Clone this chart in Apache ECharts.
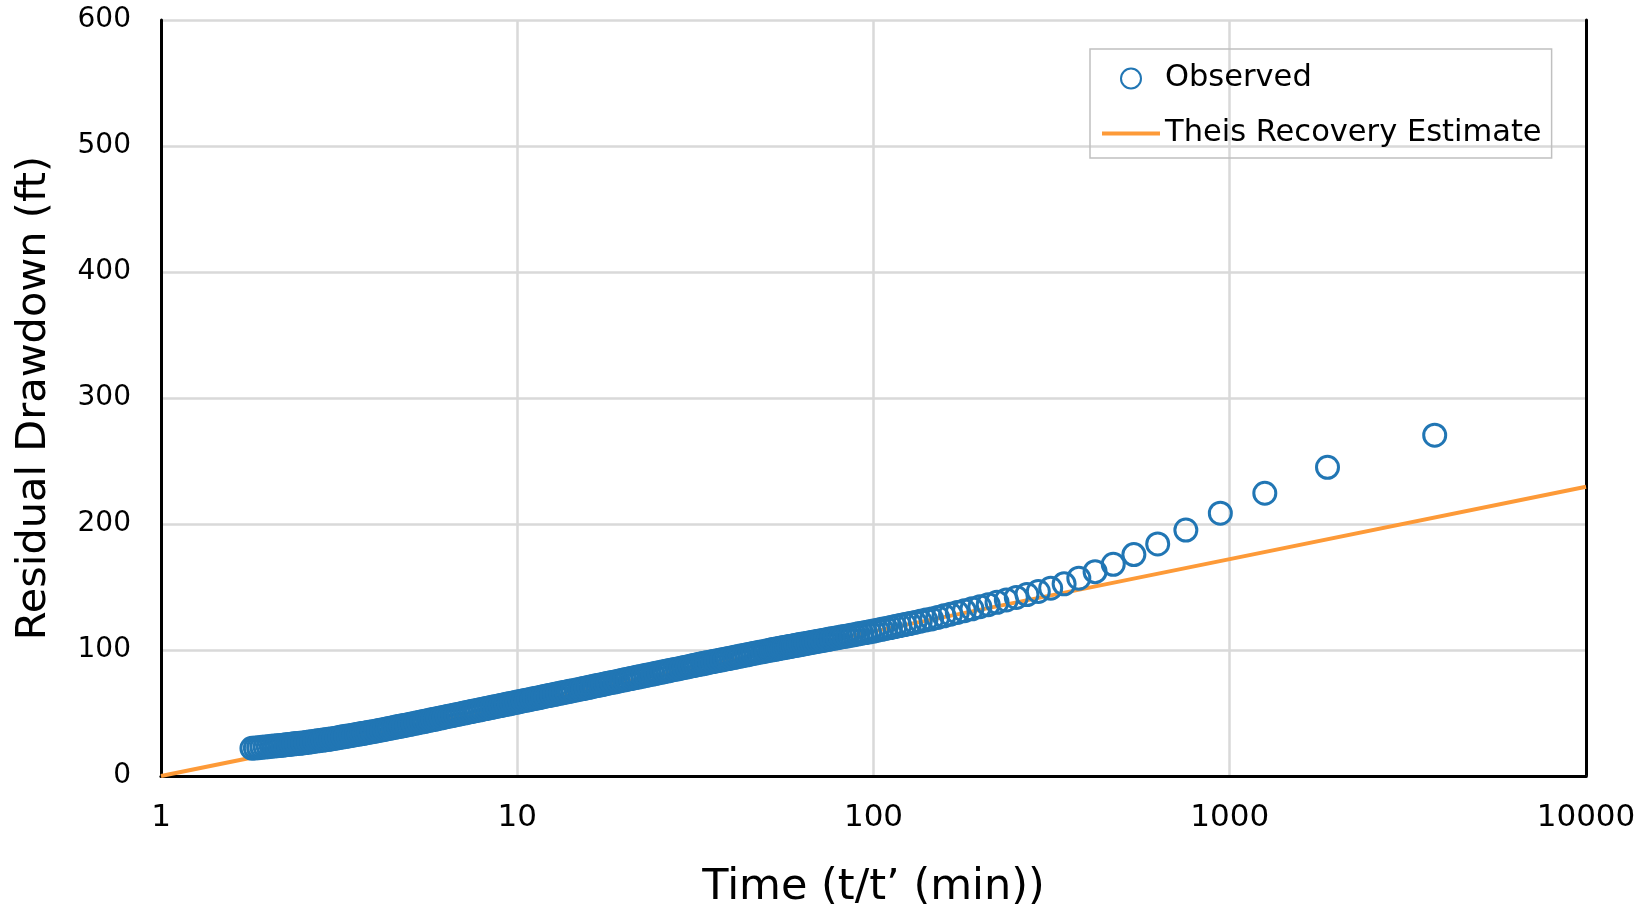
<!DOCTYPE html>
<html>
<head>
<meta charset="utf-8">
<title>Residual Drawdown</title>
<script src="https://cdn.jsdelivr.net/npm/echarts@6/dist/echarts.min.js"></script>
<style>
  html, body { margin: 0; padding: 0; background: #fff; }
  #chart { width: 1648px; height: 906px; }
</style>
</head>
<body>
<div id="chart"></div>
<script>
// observed recovery: t/t' and residual drawdown (ft)
var timeRatio = [
  1.80, 1.84, 1.88, 1.92, 1.96, 2.00,
  2.04, 2.08, 2.12, 2.16, 2.20, 2.24, 2.28, 2.32, 2.36, 2.40, 2.45, 2.50,
  2.55, 2.60, 2.65, 2.70, 2.75, 2.80, 2.85, 2.90, 2.95, 3.00,
  3.06, 3.12, 3.18, 3.24, 3.30, 3.36, 3.42, 3.48, 3.54, 3.60, 3.66, 3.72, 3.78, 3.84, 3.92, 4.00,
  4.08, 4.16, 4.24, 4.32, 4.40, 4.48, 4.56, 4.64, 4.72, 4.80, 4.90, 5.00,
  5.1, 5.2, 5.3, 5.4, 5.5, 5.6, 5.7, 5.8, 5.9, 6.0, 6.12, 6.24, 6.36, 6.48, 6.6, 6.72, 6.86, 7.0,
  7.14, 7.28, 7.42, 7.56, 7.7, 7.85, 8.0, 8.16, 8.32, 8.48, 8.64, 8.8, 8.97, 9.14, 9.31, 9.48, 9.65, 9.82, 10,
  10.2, 10.4, 10.6, 10.8, 11, 11.2, 11.4, 11.6, 11.8, 12, 12.25, 12.5, 12.75, 13, 13.25, 13.5, 13.75, 14, 14.3, 14.65, 15,
  15.3, 15.6, 15.9, 16.2, 16.5, 16.8, 17.1, 17.4, 17.7, 18, 18.4, 18.8, 19.2, 19.6, 20,
  20.4, 20.8, 21.2, 21.6, 22, 22.5, 23, 23.5, 24, 24.5, 25, 25.5, 26, 26.5, 27, 27.6, 28.2, 28.8, 29.4, 30, 30.6, 31.2, 31.8, 32.4, 33, 33.5, 34,
  34.7, 35.4, 36.1, 36.8, 37.5, 38.3, 39.1, 39.9, 40.7, 41.5, 42.3, 43.2, 44.1, 45, 45.9, 46.8, 47.8, 48.9, 50,
  51.13, 51.81, 52.51, 53.22, 53.96, 54.71, 55.49, 56.29, 57.12, 57.97,
  58.85, 59.75, 60.68, 61.65, 62.64, 63.67, 64.73, 65.83, 66.96, 68.14,
  69.36, 70.63, 71.94, 73.31, 74.73, 76.20, 77.73, 79.33, 81.00, 82.74,
  84.56, 86.45, 88.44, 90.52, 92.71, 95.00, 97.41, 99.95, 102.6, 105.4,
  108.4, 111.6, 114.9, 118.5, 122.3, 126.3, 130.7, 135.3, 140.3, 145.6,
  151.4, 157.7, 164.5, 171.9, 180.0, 189.0, 198.9, 209.9, 222.2, 236.0,
  251.7, 269.6, 290.2, 314.3, 342.8, 377.0, 418.8, 471.0, 538.1, 627.7,
  753.0, 941.0, 1254.3, 1881.0, 3761.0
];
var drawdown = [
  22.0, 22.3, 22.5, 22.8, 23.1, 23.3,
  23.6, 23.8, 24.1, 24.3, 24.5, 24.8, 25.0, 25.2, 25.5, 25.7, 25.9, 26.2,
  26.5, 26.9, 27.2, 27.6, 27.9, 28.2, 28.5, 28.8, 29.1, 29.4,
  29.8, 30.2, 30.7, 31.1, 31.5, 31.8, 32.2, 32.6, 33.0, 33.3, 33.7, 34.0, 34.4, 34.7, 35.2, 35.6,
  36.1, 36.5, 37.0, 37.5, 37.9, 38.3, 38.8, 39.2, 39.6, 40.0, 40.5, 41.0,
  41.5, 42.0, 42.5, 43.0, 43.4, 43.9, 44.4, 44.8, 45.2, 45.7, 46.2, 46.7, 47.2, 47.6, 48.1, 48.6, 49.1, 49.6,
  50.1, 50.6, 51.1, 51.6, 52.0, 52.5, 53.0, 53.5, 54.0, 54.5, 55.0, 55.4, 55.9, 56.4, 56.9, 57.3, 57.8, 58.2, 58.7,
  59.2, 59.7, 60.2, 60.6, 61.1, 61.6, 62.0, 62.4, 62.9, 63.3, 63.8, 64.3, 64.8, 65.3, 65.8, 66.3, 66.7, 67.2, 67.7, 68.3, 68.9,
  69.4, 69.9, 70.4, 70.9, 71.4, 71.8, 72.3, 72.7, 73.2, 73.6, 74.2, 74.7, 75.2, 75.8, 76.3,
  76.8, 77.3, 77.8, 78.3, 78.7, 79.3, 79.9, 80.4, 80.9, 81.5, 82.0, 82.5, 83.0, 83.5, 83.9, 84.5, 85.0, 85.6, 86.1, 86.6, 87.1, 87.6, 88.1, 88.6, 89.0, 89.4, 89.8,
  90.3, 90.8, 91.3, 91.7, 92.2, 92.7, 93.2, 93.7, 94.2, 94.7, 95.2, 95.7, 96.2, 96.7, 97.2, 97.7, 98.2, 98.7, 99.3,
  99.8, 100.1, 100.4, 100.7, 101.0, 101.4, 101.7, 102.0, 102.3, 102.7,
  103.0, 103.4, 103.7, 104.1, 104.5, 104.8, 105.2, 105.6, 106.0, 106.4,
  106.8, 107.2, 107.6, 108.0, 108.5, 108.9, 109.3, 109.8, 110.3, 110.7,
  111.2, 111.7, 112.2, 112.8, 113.3, 113.8, 114.4, 115.0, 115.7, 116.4,
  117.1, 117.8, 118.6, 119.4, 120.2, 121.0, 121.9, 122.8, 123.8, 124.7,
  125.8, 127.1, 128.4, 129.8, 131.2, 132.7, 134.3, 136.0, 137.8, 139.7,
  141.7, 144.0, 146.4, 149.0, 152.5, 157.0, 162.2, 168.0, 175.7, 184.2,
  195.2, 208.6, 224.4, 245.0, 270.5
];

// Theis recovery straight line
var theisTime = [1, 10, 100, 1000, 10000];
var theisDrawdown = [0, 57.4, 114.8, 172.1, 229.5];

var yTicks = [0, 100, 200, 300, 400, 500, 600];

var FONT = "DejaVu Sans";
var BLUE = "#2176b4";
var ORANGE = "#fd9a38";
var chart = echarts.init(document.getElementById("chart"));

var observed = timeRatio.map(function (t, i) { return [t, drawdown[i]]; });
var theis = theisTime.map(function (t, i) { return [t, theisDrawdown[i]]; });

// frame axes (top / right border), no labels
var frameX = {
  type: "log", logBase: 10, min: 1, max: 10000, position: "top",
  axisLine: { show: true, lineStyle: { color: "#000", width: 3 } },
  axisTick: { show: false }, axisLabel: { show: false }, splitLine: { show: false }
};
var frameY = {
  type: "value", min: yTicks[0], max: yTicks[yTicks.length - 1], position: "right",
  axisLine: { show: true, lineStyle: { color: "#000", width: 3 } },
  axisTick: { show: false }, axisLabel: { show: false }, splitLine: { show: false }
};

chart.setOption({
  animation: false,
  backgroundColor: "#fff",
  grid: { left: 161, right: 62, top: 20, bottom: 130, outerBoundsMode: "none", containLabel: false },
  legend: {
    orient: "vertical",
    left: 1090, top: 49,
    padding: [14, 10, 9, 10],
    itemGap: 24,
    itemWidth: 58, itemHeight: 20,
    borderColor: "#c0c0c0", borderWidth: 1.5,
    textStyle: { fontFamily: FONT, fontSize: 30.5, color: "#000" },
    data: [
      { name: "Observed" },
      { name: "Theis Recovery Estimate", itemStyle: { opacity: 0 }, lineStyle: { width: 4, color: ORANGE } }
    ]
  },
  xAxis: [{
    type: "log", logBase: 10, min: 1, max: 10000,
    name: "Time (t/t\u2019 (min))",
    nameLocation: "middle", nameGap: 90,
    nameTextStyle: { fontFamily: FONT, fontSize: 43, color: "#000" },
    axisLine: { show: true, lineStyle: { color: "#8a8a8a", width: 3 } },
    axisTick: { show: false },
    axisLabel: {
      fontFamily: FONT, fontSize: 31, color: "#000", margin: 26,
      formatter: function (v) { return String(Math.round(v)); }
    },
    splitLine: { show: true, lineStyle: { color: "#d9d9d9", width: 2.5 } }
  }, frameX],
  yAxis: [{
    type: "value", min: yTicks[0], max: yTicks[yTicks.length - 1], interval: 100,
    name: "Residual Drawdown (ft)",
    nameLocation: "middle", nameGap: 106,
    nameTextStyle: { fontFamily: FONT, fontSize: 41.5, color: "#000" },
    axisLine: { show: true, lineStyle: { color: "#000", width: 3 } },
    axisTick: { show: false },
    axisLabel: { fontFamily: FONT, fontSize: 28, color: "#000", margin: 30 },
    splitLine: { show: true, lineStyle: { color: "#d9d9d9", width: 2.5 } }
  }, frameY],
  series: [
    {
      name: "Observed",
      type: "scatter",
      z: 3,
      symbol: "circle",
      symbolSize: 22,
      itemStyle: { color: "rgba(255,255,255,0)", borderColor: BLUE, borderWidth: 3, opacity: 1 },
      data: observed
    },
    {
      name: "Theis Recovery Estimate",
      type: "line",
      z: 2,
      symbol: "none",
      lineStyle: { color: ORANGE, width: 4 },
      itemStyle: { color: ORANGE },
      data: theis
    }
  ]
});

window.addEventListener("resize", function () {
  chart.resize();
});
</script>
</body>
</html>
